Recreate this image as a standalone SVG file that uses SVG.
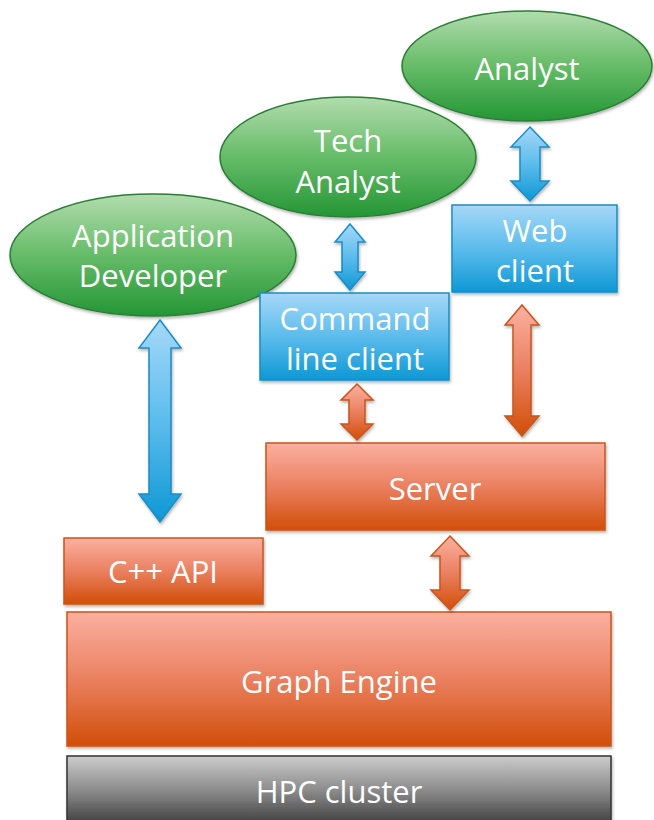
<svg xmlns="http://www.w3.org/2000/svg" width="654" height="820" viewBox="0 0 654 820">
<defs>
<linearGradient id="gGreen" x1="0" y1="0" x2="0" y2="1"><stop offset="0" stop-color="#b2dcae"/><stop offset="0.5" stop-color="#66bc68"/><stop offset="1" stop-color="#249636"/></linearGradient>
<linearGradient id="gBlue" x1="0" y1="0" x2="0" y2="1"><stop offset="0" stop-color="#a6d8f8"/><stop offset="0.5" stop-color="#5cbcec"/><stop offset="1" stop-color="#0d98d4"/></linearGradient>
<linearGradient id="gOrange" x1="0" y1="0" x2="0" y2="1"><stop offset="0" stop-color="#fbb0a0"/><stop offset="0.5" stop-color="#ea8060"/><stop offset="1" stop-color="#d24e08"/></linearGradient>
<linearGradient id="gGray" x1="0" y1="0" x2="0" y2="1"><stop offset="0" stop-color="#cccccc"/><stop offset="0.5" stop-color="#8a8a8a"/><stop offset="1" stop-color="#3a3a3a"/></linearGradient>
<filter id="sh" x="-10%" y="-10%" width="120%" height="130%"><feDropShadow dx="1" dy="2" stdDeviation="1.5" flood-color="#000" flood-opacity="0.3"/></filter>
</defs>
<style>
.ell{fill:url(#gGreen);stroke:#2a7e34;stroke-width:1.5;filter:url(#sh)}
.blue{fill:url(#gBlue);stroke:#1b8cc4;stroke-width:1.5;filter:url(#sh)}
.orange{fill:url(#gOrange);stroke:#c8561a;stroke-width:1.5;filter:url(#sh)}
.gray{fill:url(#gGray);stroke:#333;stroke-width:1.5;filter:url(#sh)}
.t{font-family:"Open Sans","Liberation Sans",sans-serif;font-size:31px;fill:#fff;text-anchor:middle}
</style>
<g id="analyst"><ellipse class="ell" cx="527" cy="66" rx="125" ry="55"/><text class="t" x="527" y="80">Analyst</text></g>
<g id="tech-analyst"><ellipse class="ell" cx="348" cy="157" rx="128" ry="60"/><text class="t" x="348" y="152">Tech</text><text class="t" x="348" y="193">Analyst</text></g>
<g id="app-developer"><ellipse class="ell" cx="153" cy="255" rx="143" ry="61"/><text class="t" x="153" y="247">Application</text><text class="t" x="153" y="287">Developer</text></g>
<g id="web-client"><rect class="blue" x="452" y="205" width="165" height="87"/><text class="t" x="535" y="242">Web</text><text class="t" x="535" y="282">client</text></g>
<g id="cli-client"><rect class="blue" x="260" y="293" width="189" height="87"/><text class="t" x="355" y="330">Command</text><text class="t" x="355" y="370">line client</text></g>
<g id="server"><rect class="orange" x="266" y="443" width="339" height="87"/><text class="t" x="435" y="500">Server</text></g>
<g id="cpp-api"><rect class="orange" x="64" y="538" width="199" height="66"/><text class="t" x="163" y="583">C++ API</text></g>
<g id="graph-engine"><rect class="orange" x="67" y="612" width="544" height="134"/><text class="t" x="339" y="693">Graph Engine</text></g>
<g id="hpc-cluster"><rect class="gray" x="67" y="756" width="544" height="70"/><text class="t" x="339" y="803">HPC cluster</text></g>
<g id="connectors">
<polygon class="blue" points="160,320 181,348 171,348 171,494 181,494 160,522 139,494 149,494 149,348 139,348"/>
<polygon class="blue" points="350,224 365,242 358,242 358,272 365,272 350,290 335,272 342,272 342,242 335,242"/>
<polygon class="blue" points="530,127 549,147 540,147 540,181 549,181 530,201 511,181 520,181 520,147 511,147"/>
<polygon class="orange" points="357,384 373,400 365,400 365,424 373,424 357,440 341,424 349,424 349,400 341,400"/>
<polygon class="orange" points="522,305 539,325 531,325 531,416 539,416 522,436 505,416 513,416 513,325 505,325"/>
<polygon class="orange" points="450,536 469,556 460,556 460,590 469,590 450,610 431,590 440,590 440,556 431,556"/>
</g>
</svg>
